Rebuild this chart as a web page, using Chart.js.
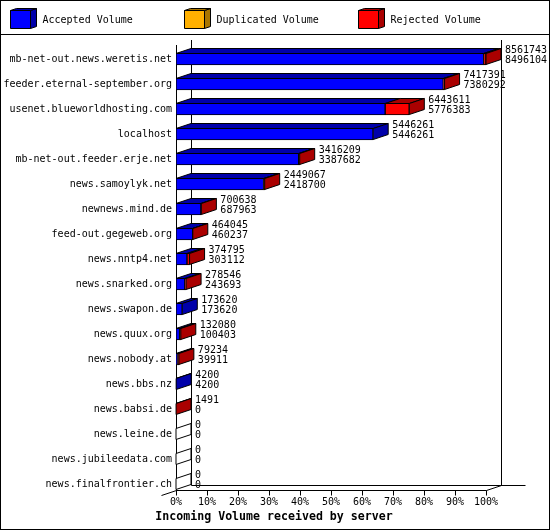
<!DOCTYPE html>
<html>
<head>
<meta charset="utf-8">
<script src="https://cdn.jsdelivr.net/npm/chart.js@4.4.0/dist/chart.umd.min.js"></script>
<style>
  body { margin: 0; background: #fff; }
</style>
</head>
<body>
<canvas id="volumeChart" width="550" height="530"></canvas>
<script>
// servers and the two counters printed next to each bar
const servers = [
    'mb-net-out.news.weretis.net', 'feeder.eternal-september.org', 'usenet.blueworldhosting.com',
    'localhost', 'mb-net-out.feeder.erje.net', 'news.samoylyk.net', 'newnews.mind.de',
    'feed-out.gegeweb.org', 'news.nntp4.net', 'news.snarked.org', 'news.swapon.de',
    'news.quux.org', 'news.nobody.at', 'news.bbs.nz', 'news.babsi.de', 'news.leine.de',
    'news.jubileedata.com', 'news.finalfrontier.ch'
];
const totalVolume = [8561743, 7417391, 6443611, 5446261, 3416209, 2449067, 700638, 464045,
    374795, 278546, 173620, 132080, 79234, 4200, 1491, 0, 0, 0];
const acceptedVolume = [8496104, 7380292, 5776383, 5446261, 3387682, 2418700, 687963, 460237,
    303112, 243693, 173620, 100403, 39911, 4200, 0, 0, 0, 0];
const duplicatedVolume = [0, 0, 0, 0, 0, 0, 0, 0, 0, 0, 0, 0, 0, 0, 0, 0, 0, 0];
const rejectedVolume = [65639, 37099, 667228, 0, 28527, 30367, 12675, 3808, 71683, 34853, 0,
    31677, 39323, 0, 1491, 0, 0, 0];
const percentTicks = [0, 10, 20, 30, 40, 50, 60, 70, 80, 90, 100];

const frontColors = ['#0000ff', '#ffb000', '#ff0000'];
const darkColors = ['#0000aa', '#aa7600', '#aa0000'];
const maxVolume = Math.max(...totalVolume);
const DX = 15, DY = 5;
const mono = '"DejaVu Sans Mono", "Liberation Mono", monospace';

Chart.defaults.font.family = mono;
Chart.defaults.font.size = 10;
Chart.defaults.color = '#000';

function poly(ctx, pts, fill) {
    ctx.beginPath();
    ctx.moveTo(pts[0][0], pts[0][1]);
    for (let k = 1; k < pts.length; k++) ctx.lineTo(pts[k][0], pts[k][1]);
    ctx.closePath();
    if (fill) { ctx.fillStyle = fill; ctx.fill(); }
    ctx.stroke();
}

function line(ctx, x1, y1, x2, y2) {
    ctx.beginPath();
    ctx.moveTo(x1, y1);
    ctx.lineTo(x2, y2);
    ctx.stroke();
}

// 3d frame, bar tops/sides, value labels, legend and titles
const threeD = {
    id: 'threeD',
    beforeDatasetsDraw(chart) {
        const ctx = chart.ctx, xs = chart.scales.x, area = chart.chartArea;
        const x0 = Math.round(xs.getPixelForValue(0)) + 0.5;
        const x1 = Math.round(xs.getPixelForValue(maxVolume)) + 0.5;
        const fTop = area.top - 1.5, fBot = area.bottom - 6;
        ctx.save();
        ctx.strokeStyle = '#000';
        ctx.lineWidth = 1;
        line(ctx, x0 + DX, fTop - DY, x0 + DX, fBot - DY);
        line(ctx, x1 + DX, fTop - DY, x1 + DX, fBot - DY);
        line(ctx, x0 + DX, fBot - DY, x1 + DX + 24, fBot - DY);
        line(ctx, x0, fTop, x0, fBot + 1);
        line(ctx, x0, fBot, x1, fBot);
        line(ctx, x1, fBot, x1 + DX, fBot - DY);
        line(ctx, x0 - DX, fBot + DY, x0, fBot);
        percentTicks.forEach(p => {
            const px = Math.round(xs.getPixelForValue(maxVolume * p / 100)) + 0.5;
            line(ctx, px, fBot, px, fBot + 5);
        });
        ctx.restore();
    },
    afterDatasetsDraw(chart) {
        const ctx = chart.ctx, xs = chart.scales.x;
        ctx.save();
        ctx.strokeStyle = '#000';
        ctx.lineWidth = 1;
        servers.forEach((name, i) => {
            let top = 0, bot = 0, end = xs.getPixelForValue(0), lastDark = '#ffffff';
            chart.data.datasets.forEach((ds, d) => {
                const bar = chart.getDatasetMeta(d).data[i];
                const p = bar.getProps(['x', 'y', 'base', 'height'], true);
                top = p.y - p.height / 2 + 0.5;
                bot = p.y + p.height / 2 - 0.5;
                if (ds.data[i] > 0) {
                    poly(ctx, [[p.base, top], [p.base + DX, top - DY], [p.x + DX, top - DY], [p.x, top]], darkColors[d]);
                    end = p.x;
                    lastDark = darkColors[d];
                }
            });
            poly(ctx, [[end, top], [end + DX, top - DY], [end + DX, bot - DY], [end, bot]], lastDark);
            const cy = (top + bot) / 2;
            ctx.fillStyle = '#000';
            ctx.font = '10px ' + mono;
            ctx.textAlign = 'left';
            ctx.textBaseline = 'middle';
            ctx.fillText(String(totalVolume[i]), end + 19, cy - 9);
            ctx.fillText(String(acceptedVolume[i]), end + 19, cy + 1.5);
        });
        ctx.restore();
    },
    afterDraw(chart) {
        const ctx = chart.ctx;
        ctx.save();
        ctx.strokeStyle = '#000';
        ctx.lineWidth = 1;
        ctx.strokeRect(0.5, 0.5, 549, 529);
        line(ctx, 0, 34.5, 550, 34.5);
        chart.data.datasets.forEach((ds, d) => {
            const bx = 10.5 + 174 * d;
            poly(ctx, [[bx, 10.5], [bx + 20, 10.5], [bx + 20, 28.5], [bx, 28.5]], frontColors[d]);
            poly(ctx, [[bx + 20, 10.5], [bx + 26, 8.5], [bx + 26, 26.5], [bx + 20, 28.5]], darkColors[d]);
            poly(ctx, [[bx, 10.5], [bx + 6, 8.5], [bx + 26, 8.5], [bx + 20, 10.5]], darkColors[d]);
            ctx.fillStyle = '#000';
            ctx.font = '10px ' + mono;
            ctx.textAlign = 'left';
            ctx.textBaseline = 'middle';
            ctx.fillText(ds.label, bx + 32, 20);
        });
        ctx.font = 'bold 11.6px ' + mono;
        ctx.textAlign = 'center';
        ctx.fillText('Incoming Volume received by server', 274, 517);
        ctx.restore();
    }
};

const ctx = document.getElementById('volumeChart').getContext('2d');
new Chart(ctx, {
    type: 'bar',
    data: {
        labels: servers,
        datasets: [
            { label: 'Accepted Volume', data: acceptedVolume },
            { label: 'Duplicated Volume', data: duplicatedVolume },
            { label: 'Rejected Volume', data: rejectedVolume }
        ].map((ds, d) => Object.assign(ds, {
            backgroundColor: frontColors[d],
            borderColor: '#000',
            borderWidth: 1,
            borderSkipped: false,
            barThickness: 12
        }))
    },
    options: {
        indexAxis: 'y',
        responsive: false,
        animation: false,
        devicePixelRatio: 1,
        layout: { padding: { top: 46.5, right: 64, bottom: 0, left: 0 } },
        plugins: { legend: { display: false }, tooltip: { enabled: false } },
        scales: {
            x: {
                stacked: true,
                min: 0,
                max: maxVolume,
                afterFit(scale) { scale.height = 33.5; },
                afterBuildTicks(scale) {
                    scale.ticks = percentTicks.map(p => ({ value: maxVolume * p / 100 }));
                },
                ticks: {
                    padding: 0,
                    maxRotation: 0,
                    autoSkip: false,
                    callback: v => Math.round(v / maxVolume * 100) + '%'
                },
                grid: { display: false, drawTicks: false },
                border: { display: false }
            },
            y: {
                stacked: true,
                afterFit(scale) { scale.width = 176; },
                ticks: { padding: 4, autoSkip: false },
                grid: { display: false, drawTicks: false },
                border: { display: false }
            }
        }
    },
    plugins: [threeD]
});
</script>
</body>
</html>
